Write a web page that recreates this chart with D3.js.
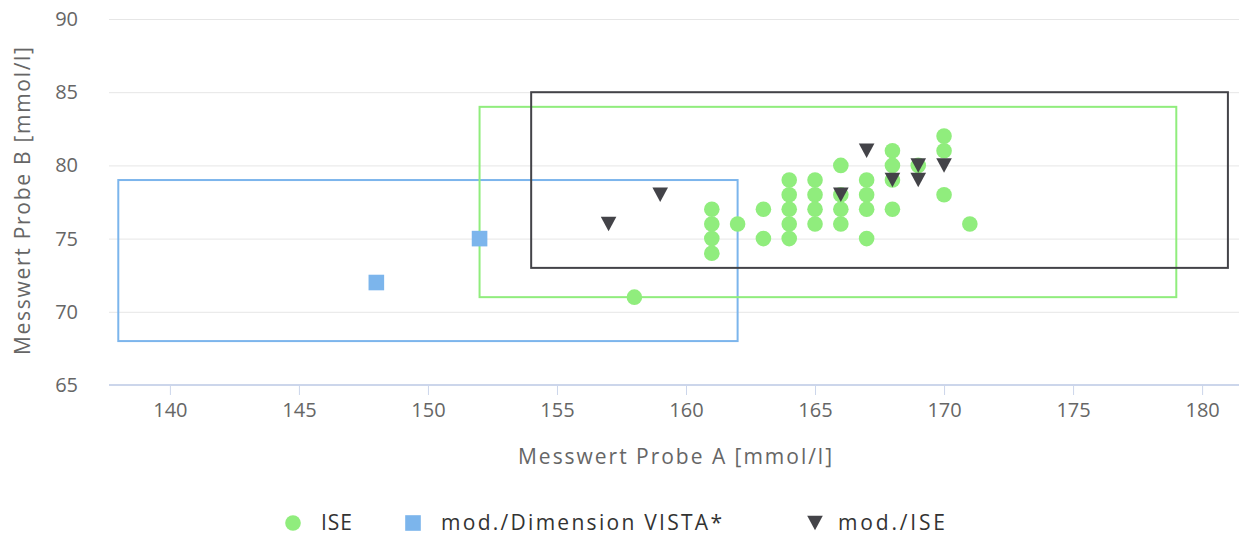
<!DOCTYPE html>
<html>
<head>
<meta charset="utf-8">
<script src="https://cdn.jsdelivr.net/npm/d3@7"></script>
<style>
html,body{margin:0;padding:0;background:#fff;}
svg{display:block;font-family:"Open Sans",sans-serif;}
</style>
</head>
<body>
<svg id="chart" width="1239" height="535"></svg>
<script>
// ---- data ----
const seriesNames = ["ISE", "mod./Dimension VISTA*", "mod./ISE"];
const iseData = [[158,71],[161,77],[161,76],[161,75],[161,74],[162,76],[163,77],[163,75],
  [164,79],[164,78],[164,77],[164,76],[164,75],[165,79],[165,78],[165,77],[165,76],
  [166,80],[166,78],[166,77],[166,76],[167,79],[167,78],[167,77],[167,75],
  [168,81],[168,80],[168,79],[168,77],[169,80],[170,82],[170,81],[170,78],[171,76]];
const vistaData = [[148,72],[152,75]];
const modIseData = [[157,76],[159,78],[166,78],[167,81],[168,79],[169,80],[169,79],[170,80]];
// boxes: [xMin, xMax, yMin, yMax]
const vistaBox = [138,162,68,79];
const iseBox = [152,179,71,84];
const modIseBox = [154,181,73,85];
const xTicks = [140,145,150,155,160,165,170,175,180];
const yTicks = [65,70,75,80,85,90];
const xTitle = "Messwert Probe A [mmol/l]";
const yTitle = "Messwert Probe B [mmol/l]";

(function(){
// ---- layout ----
const svg = d3.select("#chart");
const pl = 109, pr = 1239, pt = 19, pb = 385;
const x = d3.scaleLinear().domain([137.64, 181.43]).range([pl, pr]);
const y = d3.scaleLinear().domain([65, 90]).range([pb, pt]);
const colors = {ise:"#90ed7d", vista:"#7cb5ec", mod:"#434348"};

// grid
svg.append("g").selectAll("line").data(yTicks.filter(d=>d!==65)).join("line")
  .attr("x1", pl).attr("x2", pr)
  .attr("y1", d=>y(d)+0.5).attr("y2", d=>y(d)+0.5)
  .attr("stroke", "#e6e6e6").attr("stroke-width", 1);

// y tick labels
svg.append("g").selectAll("text").data(yTicks).join("text")
  .attr("x", 78).attr("y", d=>y(d)).attr("dy", "0.35em")
  .attr("text-anchor", "end").attr("fill", "#666").attr("font-size", 20)
  .text(d=>d);

// x axis
const xAxis = svg.append("g").attr("transform", `translate(0,${pb})`)
  .call(d3.axisBottom(x).tickValues(xTicks).tickSize(10).tickSizeOuter(0).tickPadding(8));
xAxis.select(".domain").attr("stroke", "#ccd6eb").attr("stroke-width", 2)
  .attr("d", `M${pl},0H${pr}`);
xAxis.selectAll(".tick line").attr("stroke", "#ccd6eb");
xAxis.selectAll(".tick text").attr("fill", "#666").attr("font-size", 20)
  .attr("font-family", "Open Sans, sans-serif");

// axis titles
svg.append("text").attr("x", 675).attr("y", 457).attr("dy", "0.35em")
  .attr("text-anchor", "middle").attr("fill", "#666").attr("font-size", 21)
  .attr("textLength", 314).attr("lengthAdjust", "spacing").text(xTitle);
svg.append("text").attr("transform", "translate(23,201) rotate(-90)").attr("dy", "0.35em")
  .attr("text-anchor", "middle").attr("fill", "#666").attr("font-size", 21)
  .attr("textLength", 308).attr("lengthAdjust", "spacing").text(yTitle);

// boxes
function box(b, color){
  svg.append("rect")
    .attr("x", x(b[0])).attr("y", y(b[3]))
    .attr("width", x(b[1]) - x(b[0])).attr("height", y(b[2]) - y(b[3]))
    .attr("fill", "none").attr("stroke", color).attr("stroke-width", 2);
}
box(vistaBox, colors.vista);
box(iseBox, colors.ise);
box(modIseBox, colors.mod);

// points
svg.append("g").selectAll("circle").data(iseData).join("circle")
  .attr("cx", d=>x(d[0])).attr("cy", d=>y(d[1])).attr("r", 7.8).attr("fill", colors.ise);
svg.append("g").selectAll("rect").data(vistaData).join("rect")
  .attr("x", d=>x(d[0])-7.8).attr("y", d=>y(d[1])-7.8).attr("width", 15.6).attr("height", 15.6)
  .attr("fill", colors.vista);
function triDown(cx, cy){
  const w = 15.6, h = 14.5;
  return `M${cx-w/2},${cy-h/2}L${cx+w/2},${cy-h/2}L${cx},${cy+h/2}Z`;
}
svg.append("g").selectAll("path").data(modIseData).join("path")
  .attr("d", d=>triDown(x(d[0]), y(d[1]))).attr("fill", colors.mod);

// legend
const ly = 523;
const leg = svg.append("g");
leg.append("circle").attr("cx", 293).attr("cy", ly).attr("r", 7.8).attr("fill", colors.ise);
leg.append("rect").attr("x", 413-7.8).attr("y", ly-7.8).attr("width", 15.6).attr("height", 15.6).attr("fill", colors.vista);
leg.append("path").attr("d", triDown(815, ly)).attr("fill", colors.mod);
const legX = [321, 441, 838];
const legW = [31, 281, 107];
leg.selectAll("text").data(seriesNames).join("text")
  .attr("x", (d,i)=>legX[i]).attr("y", ly).attr("dy", "0.35em")
  .attr("fill", "#333").attr("font-size", 21)
  .attr("textLength", (d,i)=>legW[i]).attr("lengthAdjust", "spacing")
  .text(d=>d);
})();
</script>
</body>
</html>
